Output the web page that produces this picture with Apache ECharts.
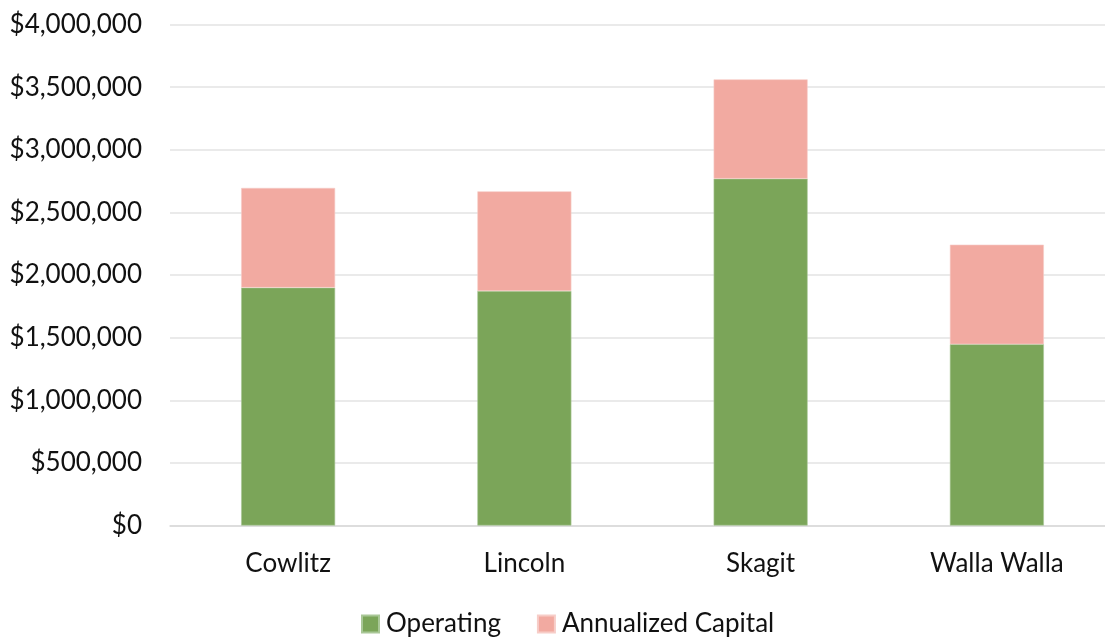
<!DOCTYPE html>
<html>
<head>
<meta charset="utf-8">
<script src="https://cdn.jsdelivr.net/npm/echarts@6/dist/echarts.min.js"></script>
<style>
  html, body { margin: 0; padding: 0; background: #fff; overflow: hidden; }
  #chart { width: 1115px; height: 637px; }
</style>
</head>
<body>
<div id="chart"></div>
<script>
// Cost per county, stacked: operating plus annualized capital
const counties = ['Cowlitz', 'Lincoln', 'Skagit', 'Walla Walla'];
const operating = [1899000, 1872000, 2769000, 1447000];
const annualizedCapital = [796000, 796000, 793000, 795000];
const yTicks = { min: 0, max: 4000000, step: 500000 };

const FONT = 'Lato, "Open Sans", sans-serif';
const TEXT = '#111111';
const chart = echarts.init(document.getElementById('chart'), null, { renderer: 'canvas' });

chart.setOption({
  animation: false,
  backgroundColor: '#ffffff',
  textStyle: { fontFamily: FONT },
  grid: { left: 170, right: 0, top: 24.5, bottom: 111.5 },
  legend: {
    left: 361,
    top: 611,
    padding: 0,
    itemWidth: 17,
    itemHeight: 17,
    itemGap: 36,
    icon: 'rect',
    textStyle: { fontFamily: FONT, fontSize: 26, lineHeight: 26, color: TEXT, padding: [0, 0, 0, 2] },
    data: ['Operating', 'Annualized Capital']
  },
  xAxis: {
    type: 'category',
    data: counties,
    axisTick: { show: false },
    axisLine: { lineStyle: { color: '#d9d9d9', width: 1.5 } },
    axisLabel: { fontFamily: FONT, fontSize: 26, color: TEXT, margin: 25 }
  },
  yAxis: {
    type: 'value',
    min: yTicks.min,
    max: yTicks.max,
    interval: yTicks.step,
    axisLine: { show: false },
    axisTick: { show: false },
    splitLine: { lineStyle: { color: '#e3e3e3', width: 1.5 } },
    axisLabel: {
      fontFamily: FONT,
      fontSize: 26,
      color: TEXT,
      margin: 28,
      formatter: v => '$' + v.toLocaleString('en-US')
    }
  },
  series: [
    {
      name: 'Operating',
      type: 'bar',
      stack: 'cost',
      barWidth: 94,
      data: operating,
      itemStyle: { color: '#7ba559', borderColor: '#a9c797', borderWidth: 0.6 }
    },
    {
      name: 'Annualized Capital',
      type: 'bar',
      stack: 'cost',
      barWidth: 94,
      data: annualizedCapital,
      itemStyle: { color: '#f2aaa1', borderColor: '#f7cdc8', borderWidth: 0.6 }
    }
  ]
});
</script>
</body>
</html>
